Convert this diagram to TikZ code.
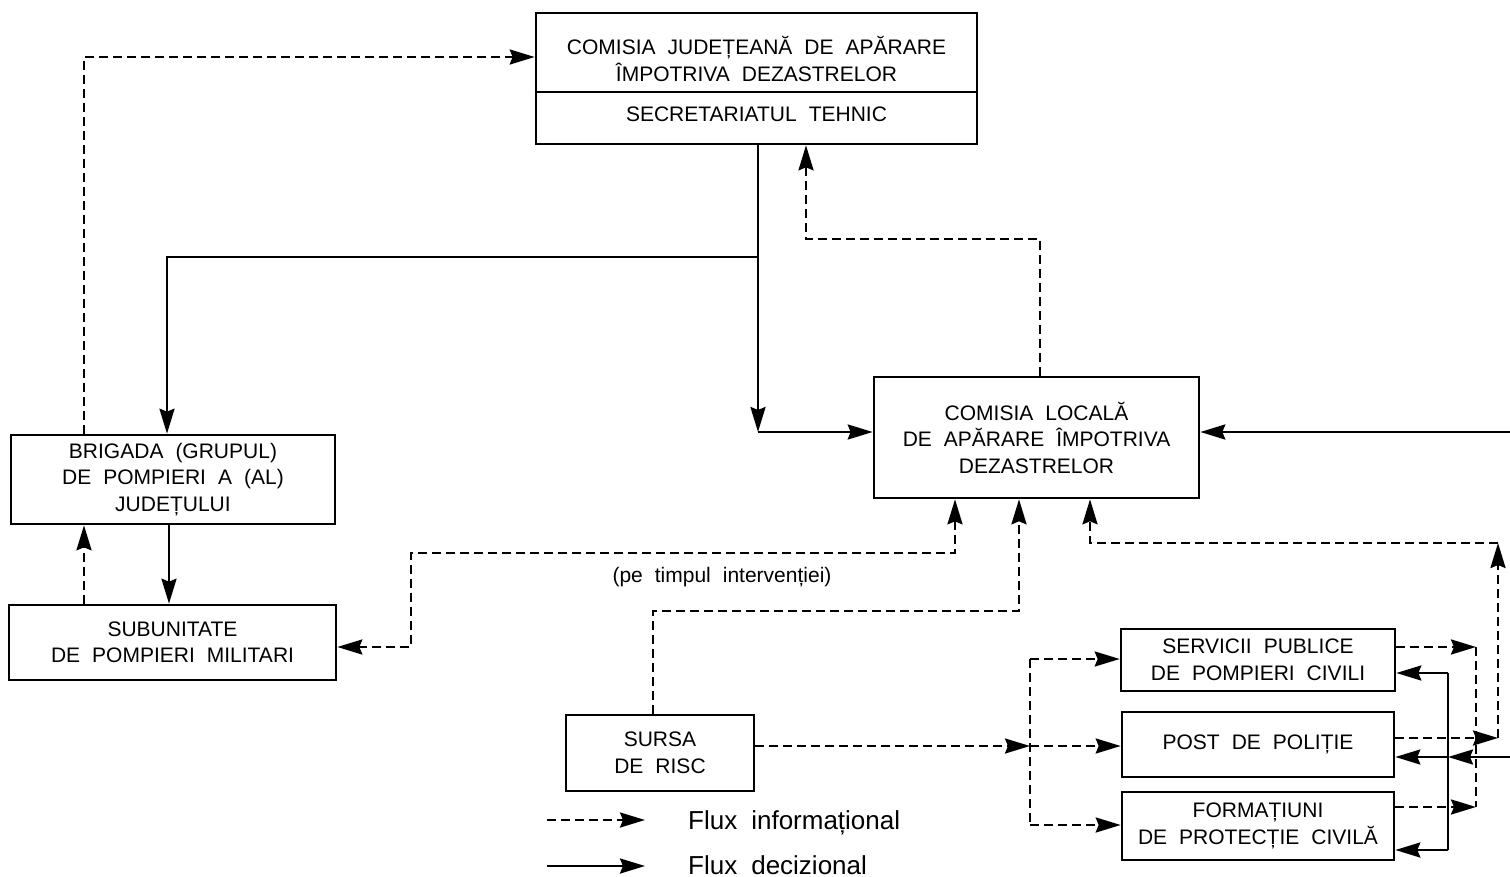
\documentclass[tikz,border=0pt]{standalone}
\usepackage{fontspec}
\setmainfont{Liberation Sans}
\usetikzlibrary{arrows.meta}
\newcommand\myfs{\fontsize{21}{26.5}\selectfont\spaceskip=12pt plus 2pt\relax}
\newcommand\mylegfs{\fontsize{26}{30}\selectfont\spaceskip=14pt plus 2pt\relax}
\begin{document}
\begin{tikzpicture}[x=1pt,y=-1pt,
  >={Stealth[length=25pt,width=15pt,inset=3pt]},
  box/.style={draw,line width=2.6pt,inner sep=0pt,align=center,font=\myfs},
  txt/.style={inner sep=0pt,align=center,font=\myfs},
  sol/.style={line width=2.6pt},
  dsh/.style={line width=2.6pt,dash pattern=on 9pt off 5pt}]
\useasboundingbox (0,0) rectangle (1510,877);

% boxes
\node[box,minimum width=441pt,minimum height=131pt] (cj) at (756.5,78.5) {};
\node[txt] (cjtop) at (756.5,59) {COMISIA JUDEȚEANĂ DE APĂRARE\\ÎMPOTRIVA DEZASTRELOR};
\node[txt] (cjsec) at (756.5,114) {SECRETARIATUL TEHNIC};
\coordinate (dv) at (0,92);
\draw[sol] (cj.west |- dv) -- (cj.east |- dv);

\node[box,minimum width=325pt,minimum height=121pt] (cl) at (1036.5,437.5)
  {COMISIA LOCALĂ\\DE APĂRARE ÎMPOTRIVA\\DEZASTRELOR};
\node[box,minimum width=324pt,minimum height=89pt] (br) at (173,479.5)
  {BRIGADA (GRUPUL)\\DE POMPIERI A (AL)\\JUDEȚULUI};
\node[box,minimum width=327pt,minimum height=75pt] (su) at (172.5,642.5)
  {SUBUNITATE\\DE POMPIERI MILITARI};
\node[box,minimum width=188pt,minimum height=76pt] (sr) at (660,753)
  {SURSA\\DE RISC};
\node[box,minimum width=274pt,minimum height=62pt] (sp) at (1258,660)
  {SERVICII PUBLICE\\DE POMPIERI CIVILI};
\node[box,minimum width=272pt,minimum height=65pt] (pp) at (1258,744.5)
  {POST DE POLIȚIE};
\node[box,minimum width=272pt,minimum height=68pt] (fp) at (1258,826)
  {FORMAȚIUNI\\DE PROTECȚIE CIVILĂ};

% coordinates
\coordinate (c1) at (758,432);
\coordinate (c2) at (167,257);
\coordinate (c3) at (1040,239);
\coordinate (c4) at (806,239);
\coordinate (c5) at (84,57);
\coordinate (c6) at (169,0);
\coordinate (c7) at (955,553);
\coordinate (c8) at (411,553);
\coordinate (c9) at (411,647);
\coordinate (c10) at (653,611);
\coordinate (c11) at (1019,611);
\coordinate (c12) at (1030,746);
\coordinate (c13) at (1030,659);
\coordinate (c14) at (1030,825);
\coordinate (r1) at (1476,647);
\coordinate (r2) at (1476,807);
\coordinate (r3) at (1498,738);
\coordinate (r4) at (1498,543);
\coordinate (r5) at (1090,543);
\coordinate (e1) at (1510,757);
\coordinate (s1) at (1448,757);
\coordinate (s2) at (1448,673);
\coordinate (s3) at (1448,850);
\coordinate (e2) at (1510,432);

% decisional (solid)
\draw[sol,->] (cj.south -| c1) -- (c1);
\draw[sol,->] (c1) -- (cl.west |- c1);
\draw[sol,->] (c1 |- c2) -- (c2) -- (br.north -| c2);
\draw[sol,->] (br.south -| c6) -- (su.north -| c6);
\draw[sol,->] (e2) -- (cl.east |- e2);
\draw[sol,->] (e1) -- (s1);
\draw[sol,->] (s1) -- (pp.east |- s1);
\draw[sol] (s2) -- (s3);
\draw[sol,->] (s2) -- (sp.east |- s2);
\draw[sol,->] (s3) -- (fp.east |- s3);

% informational (dashed)
\draw[dsh,->] (cl.north -| c3) -- (c3) -- (c4) -- (cj.south -| c4);
\draw[dsh,->] (br.north -| c5) -- (c5) -- (cj.west |- c5);
\draw[dsh,->] (su.north -| c5) -- (br.south -| c5);
\draw[dsh,<->] (cl.south -| c7) -- (c7) -- (c8) -- (c9) -- (su.east |- c9);
\node[txt] (lbl) at (722,577) {(pe timpul intervenției)};
\draw[dsh,->] (sr.north -| c10) -- (c10) -- (c11) -- (cl.south -| c11);
\draw[dsh,->] (sr.east |- c12) -- (c12);
\draw[dsh,->] (c12) -- (pp.west |- c12);
\draw[dsh] (c13) -- (c14);
\draw[dsh,->] (c13) -- (sp.west |- c13);
\draw[dsh,->] (c14) -- (fp.west |- c14);
\draw[dsh,->] (sp.east |- r1) -- (r1);
\draw[dsh,->] (fp.east |- r2) -- (r2);
\draw[dsh] (r1) -- (r2);
\draw[dsh,->] (pp.east |- r3) -- (r3);
\draw[dsh,->] (r3) -- (r4);
\draw[dsh,->] (r4) -- (r5) -- (cl.south -| r5);

% legend
\coordinate (l1) at (547,820);
\coordinate (l2) at (645,820);
\coordinate (l3) at (547,866);
\coordinate (l4) at (645,866);
\draw[dsh,->] (l1) -- (l2);
\draw[sol,->] (l3) -- (l4);
\node[anchor=west,inner sep=0pt,font=\mylegfs] (leg1) at (688,823) {Flux informațional};
\node[anchor=west,inner sep=0pt,font=\mylegfs] (leg2) at (688,865) {Flux decizional};
\end{tikzpicture}
\end{document}
